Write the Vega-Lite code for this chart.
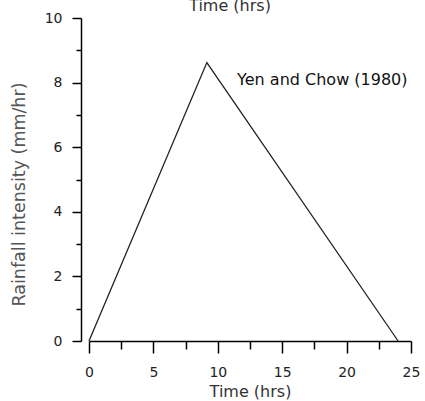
{
  "$schema": "https://vega.github.io/schema/vega-lite/v6.json",
  "autosize": "none",
  "padding": {"left": 89, "top": 18, "right": 14, "bottom": 60},
  "width": 322,
  "height": 323,
  "background": "white",
  "title": {"text": "Time (hrs)", "fontSize": 16, "font": "DejaVu Sans", "fontWeight": "normal", "color": "#333", "dx": -20, "dy": 16, "offset": 0, "baseline": "alphabetic", "frame": "group"},
  "config": {
    "view": {"stroke": null},
    "axis": {"grid": false, "domainColor": "#000", "tickColor": "#000", "domainWidth": 1.5, "tickWidth": 1.5, "labelFont": "DejaVu Sans", "titleFont": "DejaVu Sans", "labelColor": "#222", "titleColor": "#333", "titleFontWeight": "normal", "labelFontSize": 14, "titleFontSize": 16}
  },
  "datasets": {
    "hyeto": [
      {"t": 0, "i": 0},
      {"t": 9.15, "i": 8.62},
      {"t": 24, "i": 0}
    ],
    "note": [{"t": 11.5, "i": 7.93, "label": "Yen and Chow (1980)"}]
  },
  "resolve": {"axis": {"x": "independent", "y": "independent"}},
  "layer": [
    {
      "data": {"name": "hyeto"},
      "mark": {"type": "line", "color": "#222", "strokeWidth": 1.3, "clip": false},
      "encoding": {
        "x": {"field": "t", "type": "quantitative", "scale": {"domain": [0, 25], "nice": false, "zero": false},
          "axis": {"orient": "bottom", "values": [0, 5, 10, 15, 20, 25], "tickSize": 12, "labelPadding": 12, "title": "Time (hrs)", "titlePadding": 4, "labelFlush": false}},
        "y": {"field": "i", "type": "quantitative", "scale": {"domain": [0, 10], "nice": false},
          "axis": {"orient": "left", "values": [0, 2, 4, 6, 8, 10], "tickSize": 9, "labelPadding": 10, "offset": 8, "title": "Rainfall intensity (mm/hr)", "titleColor": "#555", "titleFontSize": 17.5, "titlePadding": 16, "titleY": 176, "labelFlush": false}}
      }
    },
    {
      "data": {"name": "hyeto"},
      "mark": {"type": "point", "opacity": 0},
      "encoding": {
        "x": {"field": "t", "type": "quantitative",
          "axis": {"orient": "bottom", "values": [2.5, 7.5, 12.5, 17.5, 22.5], "tickSize": 8, "labels": false, "domain": false, "title": null}},
        "y": {"field": "i", "type": "quantitative",
          "axis": {"orient": "left", "values": [1, 3, 5, 7, 9], "tickSize": 5, "labels": false, "domain": false, "offset": 8, "title": null}}
      }
    },
    {
      "data": {"name": "note"},
      "mark": {"type": "text", "align": "left", "baseline": "alphabetic", "font": "DejaVu Sans", "fontSize": 16, "color": "#111"},
      "encoding": {
        "x": {"field": "t", "type": "quantitative", "axis": null},
        "y": {"field": "i", "type": "quantitative", "axis": null},
        "text": {"field": "label"}
      }
    }
  ]
}
